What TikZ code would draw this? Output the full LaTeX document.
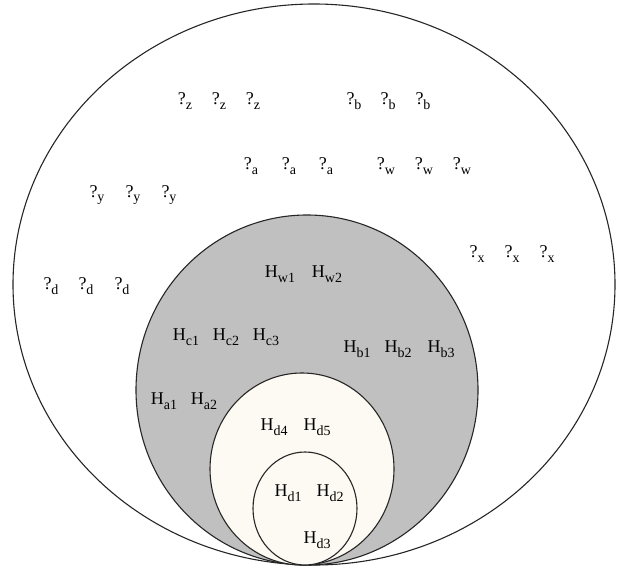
\documentclass[tikz,border=0pt]{standalone}
\usepackage{fontspec}
\setmainfont{Liberation Serif}
\usepackage{xcolor}
\definecolor{setgray}{HTML}{C0C0C0}
\definecolor{setcream}{HTML}{FCFAF2}
\newcommand{\setsub}[1]{\raisebox{-4.5pt}{\fontsize{14}{14}\selectfont #1}}

\begin{document}
\begin{tikzpicture}[
  x=1pt, y=-1pt,
  font=\fontsize{18}{20}\selectfont,
  region/.style={draw=black!85, line width=1.1pt},
  lbl/.style={inner sep=0pt, anchor=center},
]
\useasboundingbox (0,0) rectangle (618,567);

% Nested sets, all touching at the bottom.
\draw[region, fill=white] (314,284.5) ellipse [x radius=301, y radius=280.5];
\draw[region, fill=setgray] (307,390) ellipse [x radius=171, y radius=175];
\draw[region, fill=setcream] (302,469) ellipse [x radius=92, y radius=96];
\draw[region, fill=setcream] (305,508.5) ellipse [x radius=52, y radius=56.5];

% Labels in the outer set.
\node[lbl] (z1) at (185,101) {?\setsub{z}};
\node[lbl] (z2) at (219,101) {?\setsub{z}};
\node[lbl] (z3) at (253,101) {?\setsub{z}};
\node[lbl] (b1) at (354,101) {?\setsub{b}};
\node[lbl] (b2) at (388,101) {?\setsub{b}};
\node[lbl] (b3) at (423,101) {?\setsub{b}};
\node[lbl] (a1) at (251,166) {?\setsub{a}};
\node[lbl] (a2) at (289,166) {?\setsub{a}};
\node[lbl] (a3) at (326,166) {?\setsub{a}};
\node[lbl] (w1) at (386,166) {?\setsub{w}};
\node[lbl] (w2) at (424,166) {?\setsub{w}};
\node[lbl] (w3) at (462,166) {?\setsub{w}};
\node[lbl] (y1) at (97,195) {?\setsub{y}};
\node[lbl] (y2) at (133,195) {?\setsub{y}};
\node[lbl] (y3) at (169,195) {?\setsub{y}};
\node[lbl] (x1) at (477,254) {?\setsub{x}};
\node[lbl] (x2) at (512,254) {?\setsub{x}};
\node[lbl] (x3) at (547,254) {?\setsub{x}};
\node[lbl] (d1) at (51,286) {?\setsub{d}};
\node[lbl] (d2) at (86,286) {?\setsub{d}};
\node[lbl] (d3) at (122,286) {?\setsub{d}};

% Labels in the gray set.
\node[lbl] (hw1) at (280,274) {H\setsub{w1}};
\node[lbl] (hw2) at (327,274) {H\setsub{w2}};
\node[lbl] (hc1) at (186,337) {H\setsub{c1}};
\node[lbl] (hc2) at (226,337) {H\setsub{c2}};
\node[lbl] (hc3) at (266,337) {H\setsub{c3}};
\node[lbl] (hb1) at (357,349) {H\setsub{b1}};
\node[lbl] (hb2) at (398,349) {H\setsub{b2}};
\node[lbl] (hb3) at (441,349) {H\setsub{b3}};
\node[lbl] (ha1) at (164,401) {H\setsub{a1}};
\node[lbl] (ha2) at (204,401) {H\setsub{a2}};

% Labels in the two inner sets.
\node[lbl] (hd4) at (274,427) {H\setsub{d4}};
\node[lbl] (hd5) at (317,427) {H\setsub{d5}};
\node[lbl] (hd1) at (288,493) {H\setsub{d1}};
\node[lbl] (hd2) at (330,493) {H\setsub{d2}};
\node[lbl] (hd3) at (317,540) {H\setsub{d3}};

\end{tikzpicture}
\end{document}
